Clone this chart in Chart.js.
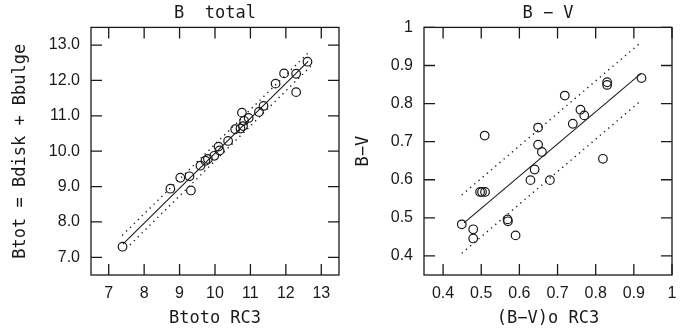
<!DOCTYPE html>
<html>
<head>
<meta charset="utf-8">
<script src="https://cdn.jsdelivr.net/npm/chart.js@4"></script>
<style>
  html, body { margin: 0; padding: 0; background: #fff; }
  #wrap { position: relative; width: 691px; height: 329px; }
  canvas { position: absolute; top: 0; }
</style>
</head>
<body>
<div id="wrap">
  <canvas id="left" width="345" height="329" style="left:0"></canvas>
  <canvas id="right" width="346" height="329" style="left:345px"></canvas>
</div>
<script>
// B total panel
const btotRC3 = [7.39, 8.74, 9.02, 9.28, 9.32, 9.59, 9.73, 9.8, 9.98, 10.1, 10.13, 10.37, 10.57, 10.72, 10.76, 10.79, 10.82, 10.95, 11.24, 11.37, 11.71, 11.95, 12.29, 12.29, 12.61];
const btotSum = [7.3, 8.94, 9.25, 9.29, 8.89, 9.59, 9.73, 9.78, 9.87, 10.13, 10.02, 10.29, 10.62, 10.64, 11.09, 10.71, 10.86, 10.94, 11.11, 11.28, 11.91, 12.2, 12.19, 11.67, 12.53];
const btotFitX = [7.4, 12.63];
const btotFitY = [7.37, 12.54];
const btotUpX = [7.38, 12.63];
const btotUpY = [7.62, 12.78];
const btotLoX = [7.6, 12.72];
const btotLoY = [7.35, 12.42];
const btotXTicks = [7, 8, 9, 10, 11, 12, 13];
const btotYTicks = [7, 8, 9, 10, 11, 12, 13];
const btotYLabels = ["7.0", "8.0", "9.0", "10.0", "11.0", "12.0", "13.0"];

// B - V panel
const bvRC3 = [0.449, 0.479, 0.479, 0.497, 0.502, 0.51, 0.509, 0.569, 0.57, 0.59, 0.629, 0.64, 0.649, 0.649, 0.659, 0.68, 0.719, 0.74, 0.76, 0.77, 0.819, 0.83, 0.83, 0.92];
const bvSum = [0.483, 0.47, 0.446, 0.568, 0.568, 0.568, 0.716, 0.496, 0.491, 0.454, 0.599, 0.627, 0.737, 0.692, 0.673, 0.599, 0.821, 0.747, 0.784, 0.769, 0.655, 0.856, 0.849, 0.867];
const bvFitX = [0.455, 0.92];
const bvFitY = [0.487, 0.88];
const bvUpX = [0.449, 0.913];
const bvUpY = [0.56, 0.956];
const bvLoX = [0.449, 0.913];
const bvLoY = [0.407, 0.803];
const bvTicks = [0.4, 0.5, 0.6, 0.7, 0.8, 0.9, 1.0];
const bvLabels = ["0.4", "0.5", "0.6", "0.7", "0.8", "0.9", "1"];

const INK = "#1a1a1a";
const TICK = 11;
const pts = (xs, ys) => xs.map((x, i) => ({ x, y: ys[i] }));

// frame + inward ticks on all four sides, like the original plot
const frame = {
  id: "frame",
  afterDatasetsDraw(chart) {
    const { ctx, chartArea: a, scales } = chart;
    ctx.save();
    ctx.strokeStyle = INK;
    ctx.lineWidth = 1.3;
    ctx.strokeRect(a.left, a.top, a.right - a.left, a.bottom - a.top);
    ctx.beginPath();
    scales.x.ticks.forEach((t) => {
      const px = scales.x.getPixelForValue(t.value);
      ctx.moveTo(px, a.bottom); ctx.lineTo(px, a.bottom - TICK);
      ctx.moveTo(px, a.top); ctx.lineTo(px, a.top + TICK);
    });
    scales.y.ticks.forEach((t) => {
      const py = scales.y.getPixelForValue(t.value);
      ctx.moveTo(a.left, py); ctx.lineTo(a.left + TICK, py);
      ctx.moveTo(a.right, py); ctx.lineTo(a.right - TICK, py);
    });
    ctx.stroke();
    ctx.restore();
  },
};

function panel(id, o) {
  const line = (data, dash) => ({
    type: "line",
    data,
    borderColor: INK,
    borderWidth: dash ? 1.4 : 1.1,
    borderDash: dash ? [1.3, 4.2] : [],
    pointRadius: 0,
    fill: false,
  });
  return new Chart(document.getElementById(id), {
    type: "scatter",
    data: {
      datasets: [
        {
          data: pts(o.x, o.y),
          pointStyle: "circle",
          pointRadius: 4.3,
          borderWidth: 1.2,
          borderColor: INK,
          backgroundColor: "rgba(0,0,0,0)",
        },
        line(pts(o.fitX, o.fitY), false),
        line(pts(o.upX, o.upY), true),
        line(pts(o.loX, o.loY), true),
      ],
    },
    options: {
      responsive: false,
      animation: false,
      devicePixelRatio: 1,
      layout: { padding: { left: 0, right: o.padRight, top: 0, bottom: 0 } },
      plugins: {
        legend: { display: false },
        tooltip: { enabled: false },
        title: {
          display: true,
          text: o.title,
          fullSize: false,
          color: INK,
          font: { family: "DejaVu Sans Mono", size: 17, weight: "normal" },
          padding: { top: 3, bottom: 4 },
        },
      },
      scales: {
        x: {
          type: "linear",
          min: o.min, max: o.max,
          afterBuildTicks: (s) => { s.ticks = o.xTicks.map((v) => ({ value: v })); },
          afterFit: (s) => { s.height = 54; },
          grid: { display: false, drawTicks: false },
          border: { display: false },
          ticks: {
            color: INK,
            padding: 9,
            maxRotation: 0,
            font: { family: "Liberation Sans", size: 16 },
            callback: (v, i) => o.xLabels[i],
          },
          title: {
            display: true,
            text: o.xTitle,
            color: INK,
            font: { family: "DejaVu Sans Mono", size: 17 },
            padding: { top: 2, bottom: 0 },
          },
        },
        y: {
          type: "linear",
          min: o.yMin, max: o.yMax,
          afterBuildTicks: (s) => { s.ticks = o.yTicks.map((v) => ({ value: v })); },
          afterFit: (s) => { s.width = o.yWidth; },
          grid: { display: false, drawTicks: false },
          border: { display: false },
          ticks: {
            color: INK,
            padding: 11,
            font: { family: "Liberation Sans", size: 16 },
            callback: (v, i) => o.yLabels[i],
          },
          title: {
            display: true,
            text: o.yTitle,
            color: INK,
            font: { family: "DejaVu Sans Mono", size: 17 },
            padding: { top: o.yTitlePad, bottom: 0 },
          },
        },
      },
    },
    plugins: [frame],
  });
}

panel("left", {
  title: "B  total",
  xTitle: "Btoto RC3",
  yTitle: "Btot = Bdisk + Bbulge",
  x: btotRC3, y: btotSum,
  fitX: btotFitX, fitY: btotFitY,
  upX: btotUpX, upY: btotUpY,
  loX: btotLoX, loY: btotLoY,
  min: 6.5, max: 13.5, yMin: 6.5, yMax: 13.5,
  xTicks: btotXTicks, xLabels: btotXTicks.map(String),
  yTicks: btotYTicks, yLabels: btotYLabels,
  yWidth: 91, padRight: 6, yTitlePad: 10,
});

panel("right", {
  title: "B − V",
  xTitle: "(B−V)o RC3",
  yTitle: "B−V",
  x: bvRC3, y: bvSum,
  fitX: bvFitX, fitY: bvFitY,
  upX: bvUpX, upY: bvUpY,
  loX: bvLoX, loY: bvLoY,
  min: 0.35, max: 1.0, yMin: 0.35, yMax: 1.0,
  xTicks: bvTicks, xLabels: bvLabels,
  yTicks: bvTicks, yLabels: bvLabels,
  yWidth: 79, padRight: 19, yTitlePad: 8,
});
</script>
</body>
</html>
